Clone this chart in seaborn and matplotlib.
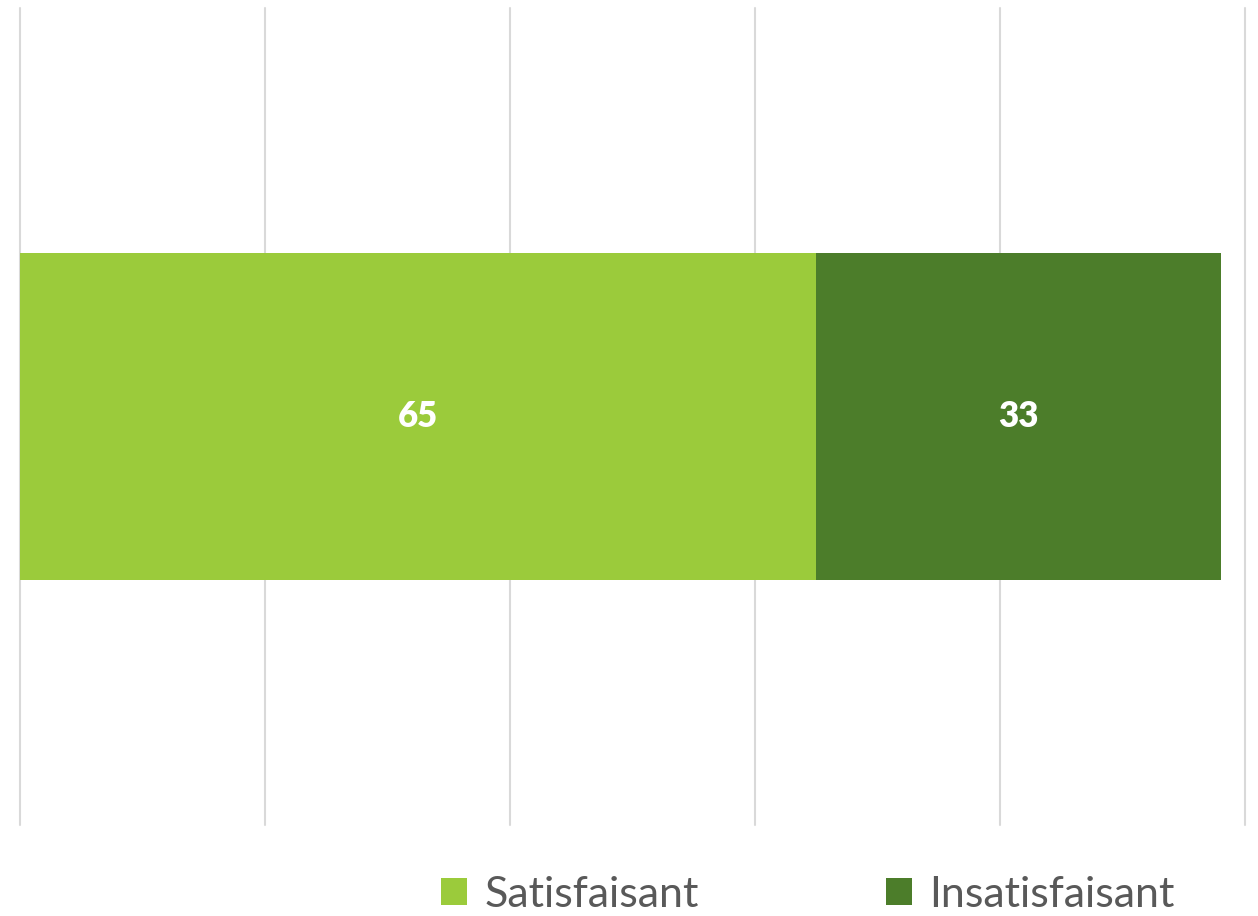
import matplotlib
matplotlib.use("Agg")
import matplotlib.pyplot as plt
import seaborn as sns
import pandas as pd
from matplotlib.patches import Patch

categories = ["Satisfaisant", "Insatisfaisant"]
values = [65, 33]
colors = ["#9BCB3B", "#4C7D2A"]
row_label = ["Avis"]

sns.set_theme(style="white")
plt.rcParams['font.family'] = ['Lato', 'DejaVu Sans']

fig = plt.figure(figsize=(12.58, 9.16), dpi=100)
ax = fig.add_axes([20/1258, 91/916, 1225/1258, 817/916])

# stacked: draw cumulative totals from back to front
cum = []
s = 0
for v in values:
    s += v
    cum.append(s)
for i in reversed(range(len(values))):
    df = pd.DataFrame({"row": row_label, "val": [cum[i]]})
    sns.barplot(data=df, x="val", y="row", orient="h", color=colors[i],
                width=0.4, saturation=1, ax=ax, edgecolor="none", linewidth=0)

left = 0
for v in values:
    ax.text(left + v / 2, 0, str(v), ha="center", va="center",
            color="white", fontsize=25, fontweight="heavy")
    left += v

ax.set_xlim(0, 100)
ax.set_ylim(0.5, -0.5)
ax.set_xticks([0, 20, 40, 60, 80, 100])
ax.xaxis.grid(True, color="#D9D9D9", linewidth=1.5)
for gl in ax.get_xgridlines():
    gl.set_clip_on(False)
ax.set_axisbelow(True)
ax.tick_params(left=False, bottom=False, labelleft=False, labelbottom=False)
ax.set_xlabel("")
ax.set_ylabel("")
for sp in ax.spines.values():
    sp.set_visible(False)

handles = [Patch(facecolor=c, edgecolor="none") for c in colors]
fig.legend(handles, categories, loc="center", bbox_to_anchor=(808/1258, 1 - 895/916),
           ncol=2, frameon=False, fontsize=31, labelcolor="#595959",
           handlelength=0.6, handleheight=0.6, handletextpad=0.4, columnspacing=4.35)

fig.savefig("out.png", dpi=100)
